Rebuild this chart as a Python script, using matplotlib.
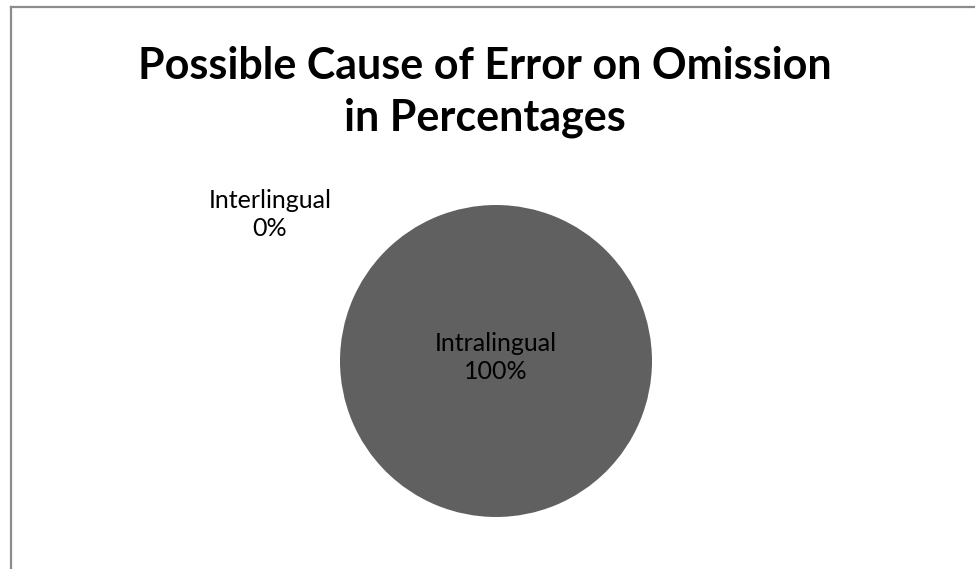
import matplotlib
matplotlib.use("Agg")
import matplotlib.pyplot as plt
from matplotlib.lines import Line2D

categories = ["Interlingual", "Intralingual"]
percentages = [0, 100]
title = "Possible Cause of Error on Omission\nin Percentages"

plt.rcParams['font.family'] = ['Lato', 'DejaVu Sans']

fig = plt.figure(figsize=(9.75, 5.69), dpi=100)
fig.patch.set_facecolor("white")

# chart-area frame (left and top edges visible)
fig.add_artist(Line2D([11/975, 1.0], [1 - 7/569, 1 - 7/569], transform=fig.transFigure,
                      color="#8c8c8c", lw=1.6))
fig.add_artist(Line2D([11/975, 11/975], [0.0, 1 - 7/569], transform=fig.transFigure,
                      color="#8c8c8c", lw=1.6))

fig.text(485/975, 1 - 92/569, title, ha="center", va="center",
         fontsize=31, fontweight="bold", color="#000000", linespacing=1.36)

ax = fig.add_axes([340/975, 1 - 517/569, 312/975, 312/569])
wedges, _ = ax.pie(percentages, colors=["#a0a0a0", "#606060"], startangle=90,
                   counterclock=False, radius=1.0)
ax.set_xlim(-1, 1)
ax.set_ylim(-1, 1)
ax.set_aspect("equal")
ax.axis("off")

# data labels
ax.text(-1.45, 0.94, f"{categories[0]}\n{percentages[0]}%", ha="center", va="center",
        fontsize=18, color="#000000", linespacing=1.27)
ax.text(0.0, 0.02, f"{categories[1]}\n{percentages[1]}%", ha="center", va="center",
        fontsize=18, color="#000000", linespacing=1.27)

fig.savefig("out.png", dpi=100, facecolor="white")
